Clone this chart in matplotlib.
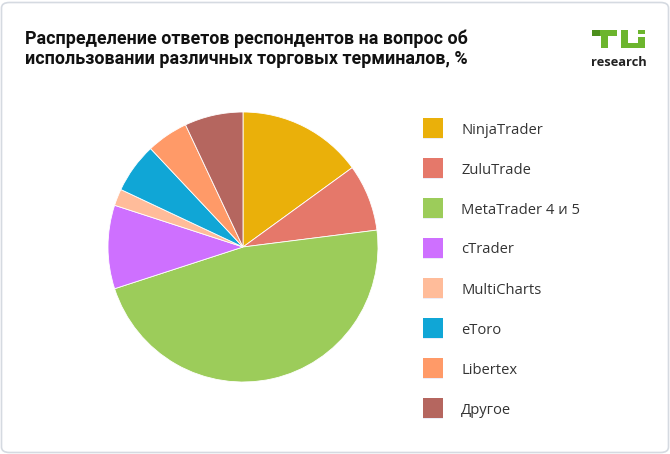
import matplotlib
matplotlib.use("Agg")
import matplotlib.pyplot as plt
from matplotlib.patches import FancyBboxPatch, Rectangle

categories = ["NinjaTrader", "ZuluTrade", "MetaTrader 4 и 5", "cTrader",
              "MultiCharts", "eToro", "Libertex", "Другое"]
values = [15, 8, 47, 10, 2, 6, 5, 7]
colors = ["#EAB00A", "#E5786A", "#9CCC5A", "#CE70FF",
          "#FFBC9A", "#10A6D6", "#FF9A68", "#B5665F"]
title = "Распределение ответов респондентов на вопрос об\nиспользовании различных торговых терминалов, %"

W, H = 670, 454
fig = plt.figure(figsize=(W / 100, H / 100), dpi=100)
fig.patch.set_facecolor("white")

def fx(x):
    return x / W

def fy(y):
    return 1 - y / H

# rounded border
border = FancyBboxPatch((fx(1.5), fy(452.5)), fx(667), 450 / H,
                        boxstyle="round,pad=0,rounding_size=0.012",
                        transform=fig.transFigure, facecolor="none",
                        edgecolor="#D5DAE1", linewidth=1.2, zorder=-1)
fig.patches.append(border)

# title
fig.text(fx(25), fy(30), title, ha="left", va="top", fontsize=12.9,
         fontweight="bold", family=["Roboto", "DejaVu Sans"], color="#111111",
         linespacing=1.12)

# pie
cx, cy, r = 243, 247, 135
ax = fig.add_axes([fx(cx - r), fy(cy + r), 2 * r / W, 2 * r / H])
ax.pie(values, colors=colors, startangle=90, counterclock=False,
       wedgeprops=dict(linewidth=0.6, edgecolor="white"))
ax.set_aspect("equal")
ax.set_xlim(-1, 1)
ax.set_ylim(-1, 1)
ax.axis("off")

# legend
for i, (cat, col) in enumerate(zip(categories, colors)):
    yc = 128 + 40 * i
    shadow = Rectangle((fx(423.5), fy(yc + 11)), 20 / W, 20 / H,
                       transform=fig.transFigure, facecolor="#C8CCF0",
                       edgecolor="none", alpha=0.35)
    fig.patches.append(shadow)
    sq = Rectangle((fx(423), fy(yc + 10)), 20 / W, 20 / H,
                   transform=fig.transFigure, facecolor=col, edgecolor="none")
    fig.patches.append(sq)
    fig.text(fx(461), fy(yc + 2), cat, ha="left", va="center", fontsize=10.6,
             family=["Open Sans", "DejaVu Sans"], color="#333333")

# logo
green = "#6CB52D"
dark_green = "#4C8F1C"
def rect(x0, y0, x1, y1, c):
    fig.patches.append(Rectangle((fx(x0), fy(y1)), (x1 - x0) / W, (y1 - y0) / H,
                                 transform=fig.transFigure, facecolor=c,
                                 edgecolor="none"))
rect(592, 30, 600, 36, dark_green)
rect(600, 30, 617, 36, green)
rect(601, 30, 608, 48, green)
rect(621, 30, 628, 48, green)
rect(638, 37, 645, 48, green)
rect(621, 43, 645, 48, green)
rect(638, 30, 645, 34, green)
fig.text(fx(619), fy(63), "research", ha="center", va="center", fontsize=9.3,
         fontweight="bold", family=["Open Sans", "DejaVu Sans"], color="#222222")

fig.savefig("out.png", dpi=100, facecolor="white")
